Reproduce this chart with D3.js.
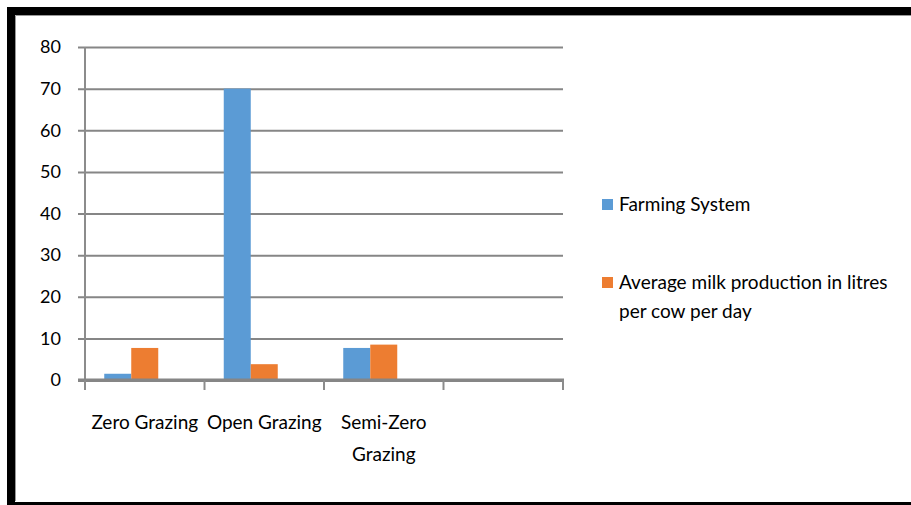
<!DOCTYPE html>
<html>
<head>
<meta charset="utf-8">
<script src="https://cdn.jsdelivr.net/npm/d3@7"></script>
<style>
  html, body { margin: 0; padding: 0; background: #fff; }
  svg { display: block; }
  text { font-family: Lato, "Open Sans", sans-serif; fill: #000; }
</style>
</head>
<body>
<svg id="chart" width="911" height="505"></svg>
<script>
// Grazing systems and the two measured series
const categories = ["Zero Grazing", "Open Grazing", "Semi-Zero Grazing", ""];
const farmingSystem = [1.5, 70, 7.7, null];
const milkPerCow = [7.7, 3.8, 8.5, null];
const seriesNames = ["Farming System", "Average milk production in litres per cow per day"];
// each group keeps room for a third, unused series slot
const seriesSlots = ["s1", "s2", "s3"];
const seriesColors = ["#5B9BD5", "#ED7D31"];
const yTicks = [0, 10, 20, 30, 40, 50, 60, 70, 80];

const W = 911, H = 505;
const svg = d3.select("#chart");

// frame
svg.append("rect").attr("x", 0).attr("y", 0).attr("width", W).attr("height", H).attr("fill", "#fff");
svg.append("path")
  .attr("d", `M11,${H + 10} V11 H${W + 10}`)
  .attr("fill", "none").attr("stroke", "#000").attr("stroke-width", 8);
svg.append("line").attr("x1", 7).attr("x2", W + 10).attr("y1", H + 0.5).attr("y2", H + 0.5)
  .attr("stroke", "#000").attr("stroke-width", 7);
svg.append("path")
  .attr("d", `M15.5,${H - 4} V15.5 H${W}`)
  .attr("fill", "none").attr("stroke", "#999").attr("stroke-width", 1);

const plot = { left: 85, right: 563, top: 47, bottom: 380 };

const y = d3.scaleLinear().domain([0, 80]).range([plot.bottom, plot.top]);
const x0 = d3.scaleBand().domain(categories).range([plot.left, plot.right]).padding(0);
const x1 = d3.scaleBand().domain(seriesSlots).range([0, x0.bandwidth()]).paddingInner(0).paddingOuter(0.713);

// horizontal gridlines with tick labels
const yAxis = d3.axisLeft(y).tickValues(yTicks).tickSize(-(plot.right - plot.left + 7)).tickPadding(17);
const gy = svg.append("g").attr("transform", `translate(${plot.left - 7},0)`).call(yAxis);
gy.select(".domain").remove();
gy.selectAll(".tick line").attr("stroke", "#868686")
  .attr("stroke-width", d => d === 0 ? 3 : 2);
gy.selectAll(".tick text").style("font-size", "18px").attr("font-family", "Lato, sans-serif").attr("fill", "#000");

// vertical axis line
svg.append("line").attr("x1", plot.left).attr("x2", plot.left)
  .attr("y1", plot.top).attr("y2", plot.bottom + 10)
  .attr("stroke", "#8c8c8c").attr("stroke-width", 2);

// bars
const rows = categories.map((c, i) => ({ cat: c, vals: [farmingSystem[i], milkPerCow[i]] }));
const groups = svg.append("g").selectAll("g").data(rows).join("g")
  .attr("transform", d => `translate(${x0(d.cat)},0)`);
groups.selectAll("rect")
  .data(d => d.vals.map((v, k) => ({ v, k })).filter(e => e.v != null))
  .join("rect")
  .attr("x", e => x1(seriesSlots[e.k]))
  .attr("width", x1.bandwidth())
  .attr("y", e => y(e.v))
  .attr("height", e => y(0) - y(e.v))
  .attr("fill", e => seriesColors[e.k]);

// category axis
const xAxis = d3.axisBottom(x0).tickSize(0).tickFormat("");
const gx = svg.append("g").attr("transform", `translate(0,${plot.bottom})`).call(xAxis);
gx.select(".domain").remove();
svg.append("line").attr("x1", plot.left - 7).attr("x2", plot.right + 1)
  .attr("y1", plot.bottom).attr("y2", plot.bottom)
  .attr("stroke", "#868686").attr("stroke-width", 3);
const boundaries = categories.map(c => x0(c)).concat([plot.right]);
svg.append("g").selectAll("line").data(boundaries).join("line")
  .attr("x1", d => d).attr("x2", d => d)
  .attr("y1", plot.bottom).attr("y2", plot.bottom + 10)
  .attr("stroke", "#8c8c8c").attr("stroke-width", 2);

// wrapped category labels
function wrapWords(text, maxW, size) {
  const probe = svg.append("text").style("font-size", size + "px");
  const words = text.split(" ");
  const lines = [];
  let cur = "";
  words.forEach(w => {
    const t = cur ? cur + " " + w : w;
    probe.text(t);
    if (probe.node().getComputedTextLength() > maxW && cur) { lines.push(cur); cur = w; }
    else cur = t;
  });
  if (cur) lines.push(cur);
  probe.remove();
  return lines;
}

const catLabels = svg.append("g");
categories.forEach(c => {
  if (!c) return;
  const lines = wrapWords(c, x0.bandwidth(), 19);
  const t = catLabels.append("text")
    .attr("text-anchor", "middle")
    .attr("x", x0(c) + x0.bandwidth() / 2)
    .attr("y", 429)
    .style("font-size", "19px");
  lines.forEach((ln, i) => {
    t.append("tspan").attr("x", x0(c) + x0.bandwidth() / 2).attr("dy", i === 0 ? 0 : 32).text(ln);
  });
});

// legend
const legendY = [204, 282];
const legend = svg.append("g");
seriesNames.forEach((name, i) => {
  legend.append("rect").attr("x", 602).attr("y", legendY[i] - 5).attr("width", 11).attr("height", 11)
    .attr("fill", seriesColors[i]);
  const lines = wrapWords(name, 285, 19);
  const t = legend.append("text").attr("x", 619).attr("y", legendY[i] + 7).style("font-size", "19px");
  lines.forEach((ln, j) => {
    t.append("tspan").attr("x", 619).attr("dy", j === 0 ? 0 : 29).text(ln);
  });
});
</script>
</body>
</html>
